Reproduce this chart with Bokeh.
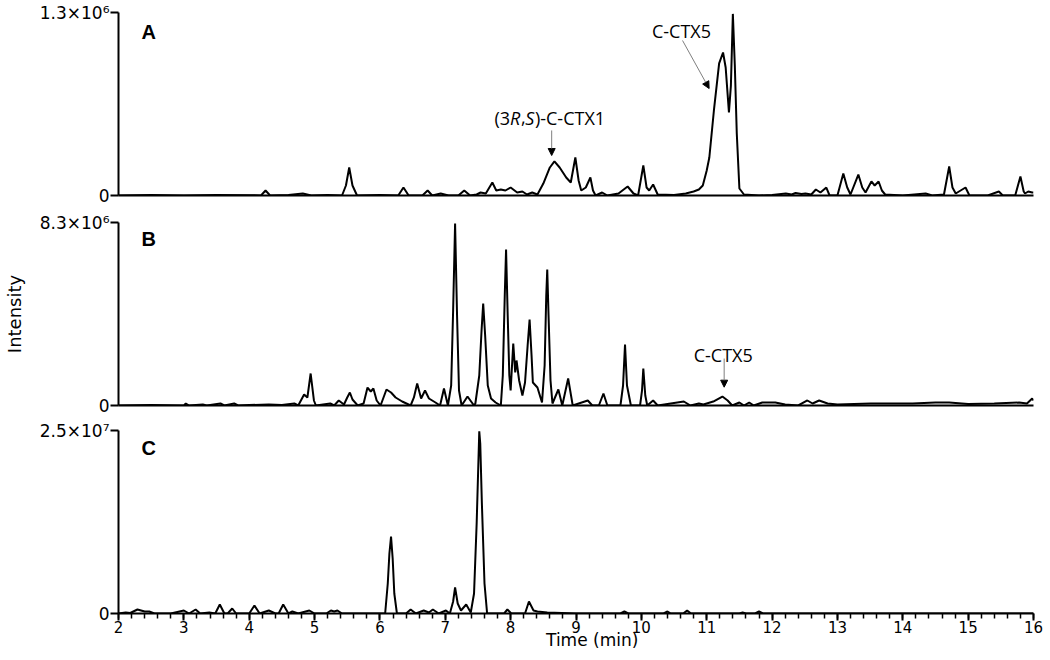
from bokeh.plotting import figure
from bokeh.layouts import column
from bokeh.models import (FixedTicker, SingleIntervalTicker, Label, Arrow,
                          NormalHead, Range1d)
from bokeh.embed import file_html
from bokeh.resources import INLINE

# ---------------- data ----------------
# Panel A
a_max = 1.3e6
a_tick_label = "1.3×10⁶"
a_time = [2.00, 2.5, 3.0, 3.5, 4.0, 4.18, 4.25, 4.32, 4.6, 4.82, 4.95, 5.2, 5.42, 5.48, 5.53, 5.58, 5.65,
          6.0, 6.28, 6.36, 6.44, 6.65, 6.73, 6.80, 6.93, 7.05, 7.20, 7.29, 7.38, 7.48, 7.54, 7.62, 7.72,
          7.78, 7.85, 7.92, 8.00, 8.10, 8.18, 8.25, 8.33, 8.41, 8.50, 8.60, 8.67, 8.75, 8.85, 8.92, 8.99,
          9.04, 9.08, 9.15, 9.22, 9.26, 9.30, 9.40, 9.48, 9.65, 9.79, 9.88, 9.95, 10.03, 10.08, 10.12,
          10.18, 10.25, 10.5, 10.68, 10.80, 10.88, 10.94, 11.00, 11.04, 11.11, 11.19, 11.25, 11.29,
          11.34, 11.37, 11.40, 11.43, 11.46, 11.50, 11.57, 11.8, 12.0, 12.21, 12.30, 12.36, 12.45,
          12.51, 12.60, 12.67, 12.74, 12.83, 12.88, 13.0, 13.09, 13.15, 13.20, 13.32, 13.38, 13.43,
          13.52, 13.57, 13.63, 13.68, 13.73, 14.0, 14.35, 14.45, 14.63, 14.71, 14.76, 14.81, 14.96,
          15.02, 15.3, 15.47, 15.53, 15.72, 15.80, 15.85, 15.87, 15.92, 15.98, 16.0]
a_int = [0, 3.6e3, 0, 3.6e3, 2.1e3, 0, 3.55e4, 0, 3.6e3, 1.42e4, 0, 3.6e3, 0, 7.1e4, 1.99e5, 7.1e4, 0,
         3.6e3, 0, 5.68e4, 0, 0, 3.55e4, 0, 1.42e4, 0, 0, 3.55e4, 0, 7.1e3, 2.13e4, 1.42e4, 9.24e4,
         3.55e4, 4.26e4, 3.55e4, 5.68e4, 2.13e4, 2.84e4, 7.1e3, 2.13e4, 7.1e3, 8.52e4, 1.99e5, 2.42e5,
         1.99e5, 1.279e5, 9.24e4, 2.70e5, 1.066e5, 3.55e4, 5.68e4, 1.279e5, 3.55e4, 0, 2.13e4, 0,
         1.42e4, 6.39e4, 1.42e4, 0, 2.13e5, 5.68e4, 3.55e4, 7.81e4, 7.1e3, 3.6e3, 1.42e4, 2.84e4,
         4.26e4, 7.1e4, 1.78e5, 2.70e5, 6.04e5, 9.38e5, 1.016e6, 9.09e5, 5.90e5, 7.81e5, 1.29e6,
         9.24e5, 4.40e5, 4.97e4, 7.1e3, 0, 3.6e3, 1.42e4, 7.1e3, 1.78e4, 1.07e4, 1.42e4, 7.1e3,
         4.26e4, 2.13e4, 5.68e4, 0, 0, 1.56e5, 5.68e4, 7.1e3, 1.49e5, 5.68e4, 2.13e4, 9.95e4, 7.1e4,
         9.95e4, 3.55e4, 7.1e3, 0, 1.42e4, 0, 7.1e3, 2.06e5, 5.68e4, 1.42e4, 5.68e4, 0, 0, 2.84e4, 0,
         0, 1.35e5, 2.84e4, 1.42e4, 2.84e4, 2.13e4, 2.13e4]

# Panel B
b_max = 8.3e6
b_tick_label = "8.3×10⁶"
b_time = [2.0, 2.5, 3.0, 3.03, 3.08, 3.29, 3.35, 3.56, 3.62, 3.77, 3.83, 4.0, 4.3, 4.5, 4.69, 4.75, 4.84,
          4.89, 4.94, 4.99, 5.02, 5.24, 5.30, 5.37, 5.45, 5.50, 5.54, 5.58, 5.66, 5.75, 5.81, 5.86, 5.90,
          5.95, 6.01, 6.10, 6.17, 6.24, 6.34, 6.47, 6.52, 6.57, 6.63, 6.69, 6.75, 6.85, 6.92, 6.98, 7.04,
          7.09, 7.12, 7.15, 7.18, 7.21, 7.25, 7.34, 7.44, 7.46, 7.52, 7.555, 7.58, 7.61, 7.65, 7.70, 7.77,
          7.85, 7.88, 7.91, 7.93, 7.955, 7.98, 8.00, 8.04, 8.07, 8.09, 8.13, 8.18, 8.22, 8.26, 8.29,
          8.32, 8.34, 8.41, 8.48, 8.52, 8.545, 8.56, 8.58, 8.61, 8.64, 8.73, 8.79, 8.88, 8.95, 9.18,
          9.25, 9.35, 9.42, 9.48, 9.68, 9.72, 9.75, 9.78, 9.84, 9.98, 10.01, 10.03, 10.06, 10.09, 10.18,
          10.25, 10.65, 10.75, 10.88, 10.95, 11.10, 11.24, 11.32, 11.39, 11.50, 11.57, 11.65, 11.72,
          11.85, 12.05, 12.20, 12.40, 12.54, 12.62, 12.72, 12.85, 13.00, 13.51, 14.15, 14.50, 14.71,
          15.0, 15.4, 15.78, 15.9, 15.98, 16.0]
b_int = [0, 2.27e4, 0, 9.07e4, 0, 4.54e4, 0, 9.07e4, 0, 9.07e4, 0, 2.27e4, 4.54e4, 2.27e4, 9.07e4, 0,
         4.99e5, 3.63e5, 1.451e6, 2.27e5, 0, 9.07e4, 0, 2.27e5, 4.54e4, 3.63e5, 5.90e5, 2.72e5, 0,
         9.07e4, 8.16e5, 6.35e5, 7.71e5, 2.27e5, 0, 7.26e5, 5.90e5, 3.63e5, 1.81e5, 0, 3.63e5, 9.98e5,
         3.17e5, 6.80e5, 3.17e5, 1.36e5, 0, 7.71e5, 0, 9.07e5, 4.309e6, 8.25e6, 4.082e6, 6.80e5, 0,
         4.08e5, 0, 9.07e4, 1.361e6, 3.40e6, 4.626e6, 3.175e6, 9.07e5, 3.17e5, 1.36e5, 0, 1.361e6,
         4.989e6, 7.075e6, 4.082e6, 1.361e6, 6.80e5, 2.812e6, 1.497e6, 2.041e6, 1.134e6, 4.54e5,
         1.043e6, 2.721e6, 3.901e6, 2.268e6, 1.043e6, 8.16e5, 1.36e5, 1.814e6, 4.989e6, 6.168e6,
         4.082e6, 1.134e6, 9.07e4, 7.26e5, 0, 1.225e6, 0, 2.27e5, 0, 0, 5.44e5, 0, 0, 9.07e5,
         2.767e6, 9.07e5, 0, 0, 6.80e5, 1.678e6, 4.54e5, 0, 2.27e5, 0, 1.81e5, 0, 9.07e4, 4.54e4,
         1.81e5, 4.08e5, 2.27e5, 0, 1.36e5, 0, 1.36e5, 0, 1.36e5, 1.36e5, 4.54e4, 0, 2.27e5, 9.07e4,
         2.27e5, 9.07e4, 4.54e4, 9.07e4, 9.07e4, 1.36e5, 1.36e5, 6.8e4, 9.07e4, 1.36e5, 9.07e4,
         3.17e5, 2.27e5]

# Panel C
c_max = 2.5e7
c_tick_label = "2.5×10⁷"
c_time = [2.0, 2.11, 2.18, 2.29, 2.40, 2.47, 2.55, 2.8, 3.0, 3.08, 3.18, 3.25, 3.39, 3.48, 3.55, 3.62,
          3.67, 3.74, 3.80, 4.0, 4.08, 4.16, 4.30, 4.40, 4.45, 4.52, 4.60, 4.66, 4.75, 4.92, 5.0, 5.18,
          5.25, 5.30, 5.35, 5.42, 6.08, 6.12, 6.145, 6.17, 6.195, 6.22, 6.26, 6.40, 6.47, 6.55, 6.67,
          6.75, 6.81, 6.90, 7.01, 7.07, 7.12, 7.15, 7.19, 7.24, 7.32, 7.39, 7.44, 7.48, 7.52, 7.535,
          7.56, 7.60, 7.64, 7.90, 7.95, 8.01, 8.22, 8.28, 8.35, 8.41, 8.56, 9.0, 9.68, 9.74, 9.80,
          10.34, 10.40, 10.45, 10.64, 10.70, 10.76, 11.50, 11.55, 11.60, 11.74, 11.80, 11.86, 16.0]
c_int = [0, 1.37e5, 6.8e4, 5.46e5, 2.73e5, 2.73e5, 0, 0, 4.10e5, 0, 5.46e5, 0, 1.37e5, 0, 1.230e6, 0,
         0, 6.83e5, 0, 0, 1.093e6, 0, 4.10e5, 0, 0, 1.230e6, 0, 2.73e5, 0, 4.10e5, 0, 0, 4.10e5,
         2.73e5, 4.10e5, 0, 0, 4.098e6, 8.197e6, 1.052e7, 7.514e6, 2.732e6, 0, 0, 5.46e5, 0, 4.10e5,
         1.37e5, 5.46e5, 0, 4.10e5, 0, 1.639e6, 3.552e6, 1.366e6, 4.10e5, 1.230e6, 1.37e5, 2.732e6,
         1.2295e7, 2.49e7, 2.322e7, 1.503e7, 4.098e6, 0, 0, 5.46e5, 0, 0, 1.639e6, 4.10e5, 2.73e5,
         1.37e5, 0, 0, 2.73e5, 0, 0, 2.73e5, 0, 0, 4.10e5, 0, 0, 1.37e5, 0, 0, 2.73e5, 0, 0]

x_label = "Time (min)"
y_label = "Intensity"

TICK_FONT = "DejaVu Sans"
LETTER_FONT = "Liberation Sans"
ANN_FONT = "Open Sans"


def make_panel(times, ints, ymax, ylabel, border_top, frame_h, border_bottom, bottom_axis):
    p = figure(frame_width=915, frame_height=frame_h, min_border_left=116, min_border_right=19,
               min_border_top=border_top, min_border_bottom=border_bottom,
               x_range=Range1d(2, 16), y_range=Range1d(0, ymax),
               output_backend="svg", toolbar_location=None)
    p.grid.visible = False
    p.outline_line_color = None
    p.background_fill_color = "white"
    p.border_fill_color = "white"
    p.line(times, ints, line_color="black", line_width=2)

    ya = p.yaxis[0]
    ya.ticker = FixedTicker(ticks=[0, ymax], minor_ticks=[])
    ya.major_label_overrides = {0: "0", ymax: ylabel}
    ya.axis_line_width = 2
    ya.major_tick_line_width = 2
    ya.major_tick_out = 8
    ya.major_tick_in = 0
    ya.major_label_standoff = 1
    ya.major_label_text_font = TICK_FONT
    ya.major_label_text_font_size = "17px"
    ya.major_label_text_color = "black"
    ya.axis_line_color = "black"

    xa = p.xaxis[0]
    xa.axis_line_width = 2
    xa.axis_line_color = "black"
    if bottom_axis:
        xa.ticker = SingleIntervalTicker(interval=1, num_minor_ticks=5)
        xa.major_tick_line_width = 2
        xa.minor_tick_line_width = 1.5
        xa.major_tick_out = 7
        xa.major_tick_in = 0
        xa.minor_tick_out = 5
        xa.minor_tick_in = 0
        xa.major_label_standoff = 0
        xa.major_label_text_font = TICK_FONT
        xa.major_label_text_font_size = "15px"
        xa.major_label_text_color = "black"
    else:
        xa.ticker = FixedTicker(ticks=[], minor_ticks=[])
        xa.major_tick_out = 0
        xa.major_tick_in = 0
        xa.minor_tick_out = 0
        xa.minor_tick_in = 0
    return p


pA = make_panel(a_time, a_int, a_max, a_tick_label, 12, 183, 14, False)
pB = make_panel(b_time, b_int, b_max, b_tick_label, 13, 183, 12, False)
pC = make_panel(c_time, c_int, c_max, c_tick_label, 13, 183, 47, True)

# axis titles
ya = pB.yaxis[0]
ya.axis_label = y_label
ya.axis_label_text_font = TICK_FONT
ya.axis_label_text_font_size = "18px"
ya.axis_label_text_font_style = "normal"
ya.axis_label_text_color = "black"
ya.axis_label_standoff = 12

xa = pC.xaxis[0]
# leading no-break spaces move the centred title right, as in the reference
xa.axis_label = "\u00a0" * 6 + x_label
xa.axis_label_text_font = TICK_FONT
xa.axis_label_text_font_size = "17px"
xa.axis_label_text_font_style = "normal"
xa.axis_label_text_color = "black"
xa.axis_label_standoff = -6


def letter(p, txt, y):
    p.add_layout(Label(x=2.35, y=y, text=txt, text_font=LETTER_FONT, text_font_style="bold",
                       text_font_size="20px", text_baseline="middle", text_align="left",
                       text_color="black"))


letter(pA, "A", 1.158e6)
letter(pB, "B", 7.55e6)
letter(pC, "C", 2.261e7)


def ann(p, x, y, txt, align="center", xoff=0, italic=False):
    p.add_layout(Label(x=x, y=y, x_offset=xoff, text=txt, text_font=ANN_FONT,
                       text_font_size="18px", text_align=align, text_baseline="alphabetic",
                       text_font_style="italic" if italic else "normal", text_color="black"))


# (3R,S)-C-CTX1 built from pieces so that R and S are italic
x0 = 7.753
ann(pA, x0, 5.54e5, "(3", "left", 0)
ann(pA, x0, 5.54e5, "R", "left", 15.6, True)
ann(pA, x0, 5.54e5, ",", "left", 26.4)
ann(pA, x0, 5.54e5, "S", "left", 30.8, True)
ann(pA, x0, 5.54e5, ")-C-CTX1", "left", 40.4)
ann(pA, 10.614, 1.172e6, "C-CTX5")
ann(pB, 11.253, 2.268e6, "C-CTX5")


def arrow(p, xs, ys, xe, ye):
    p.add_layout(Arrow(end=NormalHead(size=7, fill_color="black", line_color="black"),
                       x_start=xs, y_start=ys, x_end=xe, y_end=ye,
                       line_color="#7f7f7f", line_width=1))


arrow(pA, 8.628, 4.62e5, 8.628, 2.84e5)
arrow(pA, 10.63, 1.101e6, 11.037, 7.6e5)
arrow(pB, 11.267, 2.13e6, 11.267, 8.3e5)

layout = column(pA, pB, pC, spacing=0)
open("out.html", "w").write(file_html(layout, INLINE))
